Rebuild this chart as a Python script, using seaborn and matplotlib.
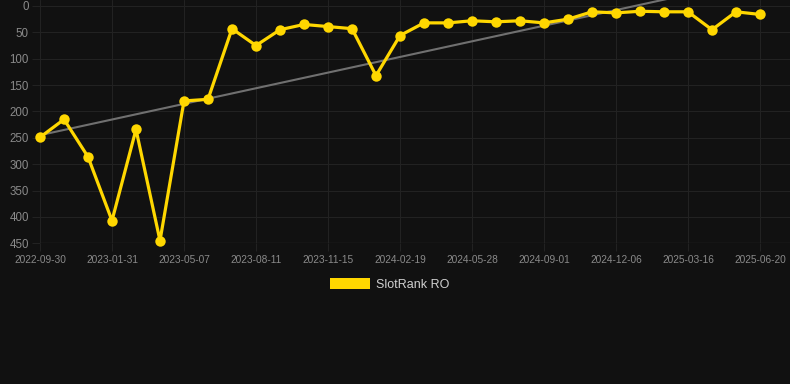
import numpy as np
import pandas as pd
import matplotlib
matplotlib.use("Agg")
import matplotlib.pyplot as plt
from matplotlib.patches import Patch
import seaborn as sns

dates = [
    "2022-09-30", "2022-11-10", "2022-12-21", "2023-01-31", "2023-03-04", "2023-04-05",
    "2023-05-07", "2023-06-08", "2023-07-10", "2023-08-11", "2023-09-12", "2023-10-14",
    "2023-11-15", "2023-12-17", "2024-01-18", "2024-02-19", "2024-03-22", "2024-04-25",
    "2024-05-28", "2024-06-29", "2024-07-31", "2024-09-01", "2024-10-03", "2024-11-04",
    "2024-12-06", "2025-01-08", "2025-02-11", "2025-03-16", "2025-04-17", "2025-05-19",
    "2025-06-20",
]
ranks = [
    249, 215, 286, 407, 234, 445, 180, 177, 43, 75,
    45, 35, 39, 43, 132, 56, 32, 32, 28, 30,
    28, 32, 25, 11, 13, 10, 11, 11, 45, 11,
    16,
]
series_name = "SlotRank RO"
y_ticks = [0, 50, 100, 150, 200, 250, 300, 350, 400, 450]

BG = "#111111"
GRID = "#222222"
GOLD = "#FFD700"
TICK_COL = "#8a8a8a"

sns.set_theme(style="dark")
plt.rcParams["font.family"] = ["Liberation Sans", "DejaVu Sans"]

df = pd.DataFrame({"idx": np.arange(len(ranks)), "rank": ranks, "date": dates})

W, H = 790, 384
fig = plt.figure(figsize=(W / 100, H / 100), dpi=100, facecolor=BG)
ax_left, ax_right = 40, 790
ax_top, ax_bottom = 0, 243.3
ax = fig.add_axes([ax_left / W, 1 - ax_bottom / H, (ax_right - ax_left) / W, (ax_bottom - ax_top) / H])
ax.set_facecolor(BG)

# trend line (linear regression)
coef = np.polyfit(df["idx"], df["rank"], 1)
xs = np.array([0, len(ranks) - 1])
ax.plot(xs, np.polyval(coef, xs), color="#707070", lw=1.5, zorder=2)

n_before = len(ax.lines)
sns.lineplot(data=df, x="idx", y="rank", ax=ax, color=GOLD, lw=2.3,
             marker="o", markersize=7.5, markeredgewidth=0, zorder=3, legend=False)
for ln in ax.lines[n_before:]:
    ln.set_clip_on(False)

px_per_idx = 24.0
ax.set_xlim(0, (ax_right - ax_left) / px_per_idx)
val_per_px = 450 / (243.3 - 6.0)
ax.set_ylim(450, -6.0 * val_per_px)

ax.set_xticks(np.arange(0, len(dates), 3))
ax.set_xticklabels(dates[::3])
ax.set_yticks(y_ticks)
ax.set_yticklabels([str(v) for v in y_ticks])
ax.set_xlabel("")
ax.set_ylabel("")

ax.grid(True, color=GRID, lw=0.8)
for s in ax.spines.values():
    s.set_visible(False)
ax.axhline(450, color="#2a2a2a", lw=1.0, zorder=1)

ax.tick_params(axis="x", colors=TICK_COL, labelsize=7.3, length=6, width=0.8, pad=2.5,
               color=GRID, bottom=True)
ax.tick_params(axis="y", colors=TICK_COL, labelsize=8.3, length=6, width=0.8, pad=2.0,
               color=GRID, left=True)
for t in ax.get_xticklabels() + ax.get_yticklabels():
    t.set_color(TICK_COL)

handle = Patch(facecolor=GOLD, edgecolor="none")
leg = fig.legend([handle], [series_name], loc="center", bbox_to_anchor=(390 / W, 1 - 284.5 / H),
                 frameon=False, fontsize=9, handlelength=3.2, handleheight=0.95,
                 handletextpad=0.5, labelcolor="#d0d0d0")

fig.savefig("out.png", dpi=100, facecolor=BG)
